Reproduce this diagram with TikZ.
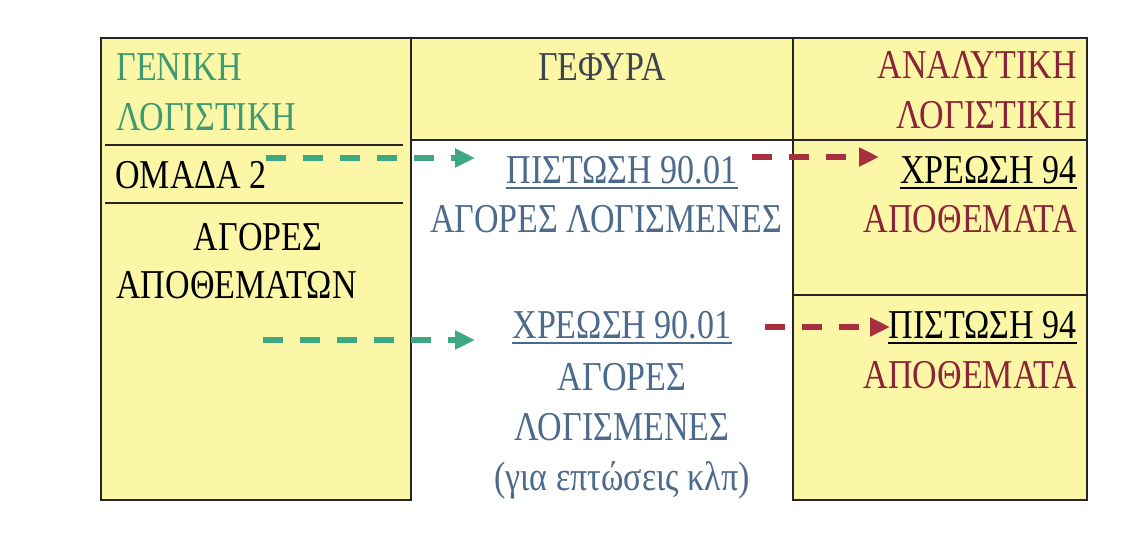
\documentclass[tikz,border=0pt]{standalone}
\usepackage{fontspec}
\setmainfont[FakeStretch=0.83]{Liberation Serif}
\usetikzlibrary{arrows.meta}
\definecolor{boxyellow}{HTML}{FBF7A6}
\definecolor{genGreen}{HTML}{3E9A72}
\definecolor{bridgeGray}{HTML}{3E4450}
\definecolor{slateBlue}{HTML}{4C6A8C}
\definecolor{wine}{HTML}{8A2436}
\definecolor{dashGreen}{HTML}{3DA882}
\definecolor{dashRed}{HTML}{A8303E}
\begin{document}
\begin{tikzpicture}[x=0.5pt,y=-0.5pt,
  lbl/.style={inner sep=0pt,font=\fontsize{20.5}{24}\selectfont},
  frame/.style={draw=black!85,line width=0.8pt},
  sep/.style={draw=black!85,line width=1.4pt},
  uline/.style={draw,line width=0.8pt},
  flow/.style={line width=2.6pt,dash pattern=on 10pt off 8.5pt,
    -{Triangle[length=10pt,width=9pt]}},
]
\useasboundingbox (0,0) rectangle (1136,546);
\fill[white] (0,0) rectangle (1136,546);

% column frames
\fill[boxyellow] (101,38) rectangle (411,500);
\fill[boxyellow] (411,38) rectangle (793,140);
\fill[boxyellow] (793,38) rectangle (1087,500);
\draw[frame] (101,38) rectangle (411,500);
\draw[frame] (411,38) -- (793,38) (411,140) -- (793,140);
\draw[frame] (793,38) rectangle (1087,500);
\draw[frame] (793,140) -- (1087,140);
\draw[frame] (793,295) -- (1087,295);
\draw[sep] (105,145) -- (403,145);
\draw[sep] (105,203) -- (403,203);

% general accounting column
\node[lbl,anchor=base west,text=genGreen] (gen1) at (116,80) {ΓΕΝΙΚΗ};
\node[lbl,anchor=base west,text=genGreen] (gen2) at (116,130) {ΛΟΓΙΣΤΙΚΗ};
\node[lbl,anchor=base west,text=black] (om) at (115,188) {ΟΜΑΔΑ 2};
\node[lbl,anchor=base,text=black] (ag1) at (258,250) {ΑΓΟΡΕΣ};
\node[lbl,anchor=base west,text=black] (ag2) at (116,298) {ΑΠΟΘΕΜΑΤΩΝ};

% bridge column
\node[lbl,anchor=base,text=bridgeGray] (bridge) at (602,80) {ΓΕΦΥΡΑ};
\node[lbl,anchor=base,text=slateBlue] (pi9) at (622,183) {ΠΙΣΤΩΣΗ 90.01};
\node[lbl,anchor=base,text=slateBlue] (pi9b) at (606,232) {ΑΓΟΡΕΣ ΛΟΓΙΣΜΕΝΕΣ};
\node[lbl,anchor=base,text=slateBlue] (xr9) at (622,338) {ΧΡΕΩΣΗ 90.01};
\node[lbl,anchor=base,text=slateBlue] (xr9b) at (622,390) {ΑΓΟΡΕΣ};
\node[lbl,anchor=base,text=slateBlue] (xr9c) at (622,440) {ΛΟΓΙΣΜΕΝΕΣ};
\node[lbl,anchor=base,text=slateBlue] (xr9d) at (622,490) {(για επτώσεις κλπ)};
\draw[uline,slateBlue] ([yshift=-2.5pt]pi9.base west) -- ([yshift=-2.5pt]pi9.base east);
\draw[uline,slateBlue] ([yshift=-2.5pt]xr9.base west) -- ([yshift=-2.5pt]xr9.base east);

% analytical accounting column
\node[lbl,anchor=base east,text=wine] (an1) at (1077,78) {ΑΝΑΛΥΤΙΚΗ};
\node[lbl,anchor=base east,text=wine] (an2) at (1077,128) {ΛΟΓΙΣΤΙΚΗ};
\node[lbl,anchor=base east,text=black] (xr94) at (1077,183) {ΧΡΕΩΣΗ 94};
\node[lbl,anchor=base east,text=wine] (ap1) at (1077,232) {ΑΠΟΘΕΜΑΤΑ};
\node[lbl,anchor=base east,text=black] (pi94) at (1077,338) {ΠΙΣΤΩΣΗ 94};
\node[lbl,anchor=base east,text=wine] (ap2) at (1077,388) {ΑΠΟΘΕΜΑΤΑ};
\draw[uline,black] ([yshift=-2.5pt]xr94.base west) -- ([yshift=-2.5pt]xr94.base east);
\draw[uline,black] ([yshift=-2.5pt]pi94.base west) -- ([yshift=-2.5pt]pi94.base east);

% flow arrows
\coordinate (g1s) at (266,158);
\coordinate (g1e) at (475,158);
\coordinate (r1s) at (752,157);
\coordinate (r1e) at (879,157);
\coordinate (g2s) at (263,340);
\coordinate (g2e) at (475,340);
\coordinate (r2s) at (765,327);
\coordinate (r2e) at (890,327);
\draw[flow,dashGreen] (g1s) -- (g1e);
\draw[flow,dashRed] (r1s) -- (r1e);
\draw[flow,dashGreen] (g2s) -- (g2e);
\draw[flow,dashRed] (r2s) -- (r2e);
\end{tikzpicture}
\end{document}
